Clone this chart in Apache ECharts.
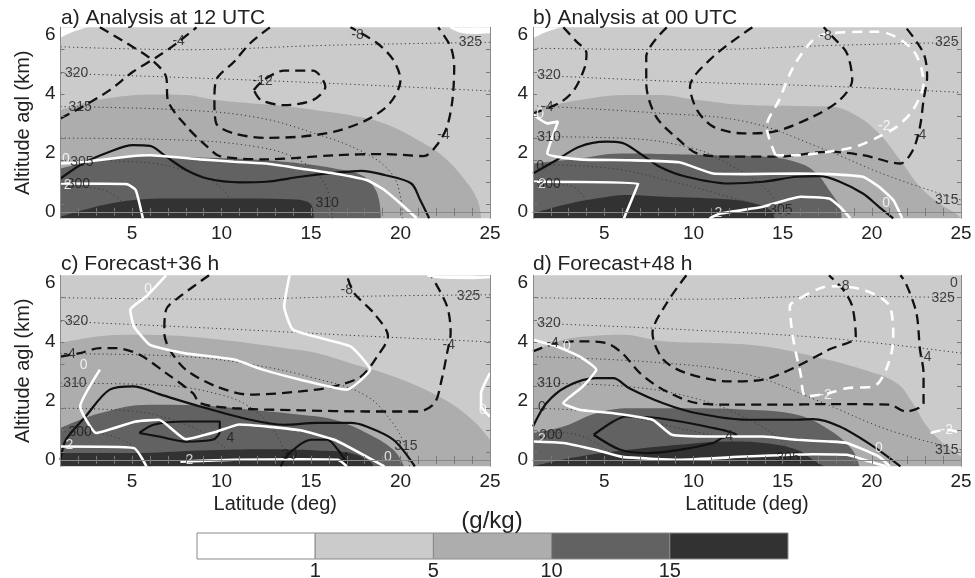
<!DOCTYPE html>
<html><head><meta charset="utf-8">
<script src="https://cdn.jsdelivr.net/npm/echarts@6/dist/echarts.min.js"></script>
<style>html,body{margin:0;padding:0;background:#fff}#c{width:975px;height:578px}</style>
</head><body><div id="c"></div>
<script>
// ---------- axis ticks / labels ----------
const LAT_TICKS = [5, 10, 15, 20, 25];
const KM_TICKS = [0, 2, 4, 6];
const LAT_MINOR = [2,3,4,5,6,7,8,9,10,11,12,13,14,15,16,17,18,19,20,21,22,23,24];
const KM_MINOR = [0.25, 1, 1.75, 2.5, 3.25, 4, 4.75, 5.5];
const PANEL_TITLES = ['a) Analysis at 12 UTC', 'b) Analysis at 00 UTC', 'c) Forecast+36 h', 'd) Forecast+48 h'];
const CB_LEVELS = ['1', '5', '10', '15'];
const CB_COLORS = ['#ffffff', '#cbcbcb', '#adadad', '#626262', '#323232'];

// ---------- panel a ----------
const A_fill5 = [[1,3.45],[3.2,3.81],[6.4,3.98],[8,3.96],[9.7,3.79],[11.6,3.68],[13.5,3.59],[15.3,3.45],[17.2,3.28],[19.1,3.0],[21,2.43],[22.4,1.87],[23.6,1.08],[24.3,0.4],[24.5,-0.22]];
const A_fill10 = [[1,1.47],[2.25,1.64],[4.1,1.81],[6,1.89],[8.8,1.84],[11.6,1.78],[14.4,1.64],[16.3,1.47],[17.8,1.25],[18.5,0.85],[18.8,0.4],[18.9,-0.22]];
const A_fill15 = [[1,-0.17],[2.25,0.06],[3.6,0.26],[5.1,0.4],[6.9,0.45],[10.7,0.45],[13.8,0.43],[14.8,0.34],[15.1,0.11],[15.15,-0.22]];
const A_white1 = [[1,5.9],[1.6,6.08],[2.5,6.26]];
const A_white2 = [[22.8,6.26],[23.3,6.13],[24.2,6.08],[25,6.1]];
const A_solid = [[1,1.13],[2.25,1.64],[3.75,2.04],[5.05,2.26],[6,2.24],[6.9,1.87],[8.05,1.41],[9.2,1.13],[11,1.0],[12.5,1.02],[14.4,1.19],[16.3,1.32],[17.8,1.39],[19.1,1.25],[20.6,0.96],[21.1,0.4],[21.6,-0.22]];
const A_w0 = [[1,1.64],[2.4,1.7],[4.7,1.87],[6,1.92],[8.8,1.78],[10.7,1.7],[12.5,1.64],[14.4,1.47],[16.3,1.3],[18.1,1.08],[19.1,0.74],[20,0.28],[20.9,-0.22]];
const A_w2 = [[1,0.96],[4.7,0.94],[5.2,0.74],[5.6,-0.22]];
const A_n4a = [[1,3.17],[2.25,3.57],[3.75,4.13],[5.05,4.75],[6.4,5.26],[7.5,5.72],[8.6,6.26]];
const A_n4b = [[3.2,6.26],[4.7,5.72],[6,5.21],[6.9,4.58],[7,3.79],[8.05,2.89],[9.2,2.21],[9.9,1.89],[12.5,1.78],[16.3,1.92],[19.1,1.96],[21.3,1.89],[22.1,2.32],[22.6,2.89],[22.9,3.79],[23,4.92],[22.8,5.6],[22.1,6.26]];
const A_n8 = [[12.7,6.26],[11.6,5.72],[10.7,5.09],[9.7,4.47],[9.6,3.79],[9.7,3.0],[10.7,2.66],[12.5,2.51],[14.4,2.55],[16.3,2.72],[18.1,3.11],[19.4,3.68],[20,4.47],[19.6,5.15],[18.7,5.72],[17.2,6.26]];
const A_n12 = [[11.8,4.13],[12.35,4.47],[13.5,4.79],[15.1,4.79],[15.8,4.24],[15.1,3.79],[13.5,3.62],[12.2,3.79],[11.8,4.13]];
const A_t325 = [[1,5.6],[8,5.5],[16,5.65],[25,5.75]];
const A_t320 = [[1,4.7],[9,4.53],[16,4.36],[25,4.1]];
const A_t315 = [[1,3.57],[8,3.45],[12,3.2],[15,2.7],[18,2.0],[19.5,1.3],[20,0.5],[20.1,-0.22]];
const A_t310 = [[1,2.5],[7,2.45],[12,2.2],[14.5,1.7],[15.8,0.9],[16.2,-0.22]];
const A_t305 = [[1,1.75],[5,1.7],[8,1.4],[10,0.8],[11,-0.22]];
const A_t300 = [[1,0.85],[3,0.8],[4.5,0.3],[5,-0.22]];
const A_lblK = [[7.6,5.8,'-4'],[17.6,6.0,'-8'],[12.3,4.45,'-12'],[22.4,2.6,'-4'],[23.9,5.75,'325'],[1.9,4.7,'320'],[2.1,3.55,'315'],[2.2,1.7,'305'],[2.0,0.95,'300'],[15.9,0.3,'310']];
const A_lblW = [[1.3,1.8,'0'],[1.4,0.9,'2'],[24.3,6.15,'0']];

// ---------- panel b ----------
const B_fill5 = [[1,3.45],[3.6,3.79],[6.4,3.96],[8.1,3.96],[10.2,3.79],[13,3.62],[15.8,3.59],[17.6,3.57],[19.1,3.28],[20.4,2.66],[21.6,1.75],[22.7,0.85],[23.8,0.28],[24.7,-0.06],[25,-0.22]];
const B_fill10 = [[1,1.64],[3.6,1.81],[5.9,1.98],[8.3,1.96],[11.1,1.92],[14.1,1.87],[16,1.64],[16.9,1.3],[17.6,0.74],[18.2,0.17],[18.3,-0.22]];
const B_fill15 = [[1,-0.06],[2.7,0.23],[4.55,0.45],[6.4,0.57],[8.3,0.51],[11.1,0.45],[13,0.34],[14.3,0.06],[14.55,-0.22]];
const B_white1 = [[1,5.89],[1.75,6.1],[2.6,6.26]];
const B_solid = [[1,1.3],[2.3,1.75],[3.6,2.21],[5.1,2.38],[6,2.34],[7,1.98],[8.1,1.53],[9.6,1.19],[12,0.96],[13.9,1.02],[15.8,1.19],[17.1,1.21],[18.2,1.02],[19.5,0.62],[20.4,0.17],[21.2,-0.22]];
const B_w0 = [[1,3.3],[1.8,3.0],[2.4,3.06],[1.8,1.98],[3.6,1.78],[6.4,1.75],[9.2,1.68],[11.1,1.3],[13,1.28],[15.8,1.3],[17.6,1.28],[19.5,1.19],[20.4,0.85],[21.2,0.4],[21.7,-0.22]];
const B_w2a = [[1,1.02],[6.9,0.96],[6.1,-0.22]];
const B_w2b = [[10.9,-0.22],[11.5,-0.06],[13.9,0.17],[16,0.51],[17.6,0.45],[18.2,0.17],[18.8,-0.22]];
const B_wn2 = [[14.6,1.92],[14.1,2.89],[14.8,3.79],[15.6,4.92],[16.7,5.83],[17.6,6.05],[20.4,6.11],[22.3,5.49],[22.9,4.36],[22.3,3.45],[21.4,2.89],[20.4,2.55],[19.1,2.21],[17.6,2.04],[15.8,1.92],[14.6,1.92]];
const B_n4a = [[2.7,6.26],[3.4,5.8],[4,5.38],[3.9,4.9],[3.3,4.13],[2.5,3.7],[1,3.34]];
const B_n4b = [[8.5,6.26],[7.35,5.26],[7.35,4.36],[7.9,3.23],[9.2,2.43],[10.2,1.98],[12,1.87],[14.8,1.87],[17.6,2.04],[19.5,1.92],[21.6,1.64],[22.3,2.09],[22.7,2.89],[22.9,3.79],[23.1,4.58],[22.9,5.38],[21.9,6.26]];
const B_n8 = [[13.3,6.26],[11.1,5.26],[9.8,4.24],[10.2,3.45],[11.1,2.89],[12.8,2.66],[14.5,2.72],[16.7,3.23],[18.2,3.79],[18.9,4.47],[18.6,5.38],[17.8,5.94],[17.3,6.26]];
const B_t325 = [[1,5.55],[10,5.5],[18,5.65],[25,5.75]];
const B_t320 = [[1,4.64],[10,4.4],[18,4.25],[25,4.05]];
const B_t315 = [[1,3.6],[8,3.35],[13,3.05],[17,2.2],[21,1.2],[25,0.4]];
const B_t310 = [[1,2.55],[6,2.5],[10,2.15],[12,1.6],[14,0.8],[15.3,-0.22]];
const B_t305 = [[1,1.6],[5,1.5],[9,1.0],[12,0.5],[14.5,0.05],[15,-0.22]];
const B_t300 = [[1,0.95],[3,0.9],[4,0.4],[4.5,-0.22]];
const B_lblK = [[17.4,5.95,'-8'],[1.8,3.55,'-4'],[1.9,4.64,'320'],[1.9,2.55,'310'],[24.2,5.77,'325'],[24.2,0.4,'315'],[22.7,2.6,'-4'],[14.9,0.05,'305'],[1.4,1.55,'0'],[1.9,0.95,'300']];
const B_lblW = [[20.7,2.9,'-2'],[20.8,0.3,'0'],[11.4,-0.05,'2'],[1.4,3.3,'0'],[1.5,0.95,'2']];

// ---------- panel c ----------
const C_fill5 = [[1,3.96],[3.2,4.19],[5.4,4.24],[7.9,4.19],[10.7,4.02],[13.5,3.79],[15.3,3.62],[17.2,3.28],[19.1,2.94],[21,2.49],[22.8,1.92],[24.2,1.25],[25,0.68]];
const C_fill10 = [[1,1.08],[3.2,1.58],[6,1.87],[8.8,1.84],[11.6,1.7],[14.4,1.53],[16.3,1.36],[18.1,0.91],[19.6,0.34],[20.2,-0.22]];
const C_fill15 = [[1,0.23],[5.1,0.23],[8.8,0.32],[12.5,0.36],[15.3,0.32],[17.2,0.23],[18.3,-0.06],[18.5,-0.22]];
const C_white1 = [[21.5,6.26],[22,6.2],[24,6.17],[25,6.2]];
const C_solid = [[1,0],[1.3,0.68],[2.4,1.47],[3.75,2.38],[5.05,2.49],[6.6,2.21],[8.8,1.81],[11.6,1.36],[13.5,1.19],[15.3,1.25],[17.2,1.25],[18.1,1.13],[19.6,0.68],[20.8,-0.22]];
const C_s4a = [[5.4,0.91],[6.2,1.19],[8,1.3],[9.9,1.3],[9.9,0.96],[9.5,0.68],[8,0.62],[6.5,0.79],[5.4,0.91]];
const C_s4b = [[13.3,-0.22],[13.8,0.23],[15,0.68],[15.9,0.68],[16.5,0.34],[17,-0.11]];
const C_w0a = [[6.9,6.26],[5.8,5.55],[4.9,5.09],[5.1,4.53],[6,3.9],[7.9,3.62],[10.7,3.4],[12.3,3.06],[14.4,2.72],[17,2.38],[18.3,3.06],[17.2,3.85],[14,4.41],[13.5,5.21],[13.8,6.26]];
const C_w0b = [[3.2,3.06],[2.1,1.81],[3,0.91],[5.2,1.3],[6.5,1.36],[8,0.7],[9.7,0.95],[11,1.2],[14.4,1.0],[16.3,0.68],[18.1,0.11],[19.1,-0.22]];
const C_w0c = [[25,2.94],[24.5,2.26],[24.5,1.81],[25,1.47]];
const C_w2a = [[1,0.45],[5.1,0.4],[5.8,-0.22]];
const C_w2b = [[7.7,-0.06],[10.7,0],[14.4,0.02],[16.5,0],[17,-0.22]];
const C_n4 = [[1,3.5],[2.1,3.62],[3.2,3.79],[4.1,3.79],[5.4,3.57],[6.9,2.94],[8.4,2.26],[8.8,1.92],[10.7,1.75],[14.4,1.68],[18.1,1.64],[21,1.64],[21.9,1.92],[22.3,2.72],[22.6,3.62],[22.8,4.3],[22.6,5.21],[21.7,6.26]];
const C_n8 = [[9.3,6.26],[7.7,5.55],[6.9,5.09],[6.8,4.3],[7.1,3.74],[8,3.06],[9.7,2.49],[11.6,2.21],[14.4,2.32],[16.3,2.49],[17.8,2.83],[18.7,3.51],[19.3,4.19],[18.5,4.98],[17.4,5.66],[17,6.26]];
const C_t325 = [[1,5.5],[10,5.45],[18,5.55],[25,5.6]];
const C_t320 = [[1,4.7],[10,4.45],[18,4.2],[25,4.0]];
const C_t315 = [[1,3.6],[8,3.5],[12,3.2],[15,2.8],[18,2.2],[19.5,1.3],[20.3,0.4],[20.5,-0.22]];
const C_t310 = [[1,2.6],[6,2.55],[10,2.2],[12,1.6],[13.3,0.6],[13.6,-0.22]];
const C_t305 = [[1,1.75],[5,1.65],[8,1.2],[10,0.5],[11,-0.22]];
const C_t300 = [[1,0.95],[3,0.9],[5,0.5],[6,-0.22]];
const C_lblK = [[17,5.75,'-8'],[23.8,5.55,'325'],[1.9,4.7,'320'],[1.5,3.6,'-4'],[1.8,2.6,'310'],[2.1,0.95,'300'],[22.7,3.9,'-4'],[10.5,0.75,'4'],[16.9,0.05,'4'],[20.3,0.45,'315'],[13.8,0.15,'30']];
const C_lblW = [[5.9,5.8,'0'],[2.3,3.2,'0'],[1.5,0.5,'2'],[8.2,0,'2'],[19.3,0.1,'0'],[24.6,1.7,'0']];

// ---------- panel d ----------
const D_fill5 = [[1,3.68],[2.7,4.07],[4.2,4.19],[6,4.24],[8.3,4.02],[11.1,3.96],[13.9,3.85],[16.7,3.51],[19.5,3.06],[21.4,2.6],[22.3,1.92],[23.1,1.13],[24.2,0.45],[25,0.11]];
const D_fill10 = [[1,0.91],[2.7,1.13],[4.55,1.58],[6.4,1.75],[9.2,1.75],[13,1.7],[15.8,1.53],[17.6,1.02],[18.9,0.34],[19.3,-0.22]];
const D_fill15 = [[1,-0.22],[3.6,0.11],[6.4,0.34],[9.2,0.51],[12,0.62],[13.9,0.57],[15.8,0.34],[16.7,0],[17.3,-0.22]];
const D_solid = [[1,1.13],[1.75,1.92],[2.9,2.49],[4.55,2.77],[5.5,2.77],[6.4,2.43],[8.3,1.92],[10.2,1.58],[13,1.36],[15.8,1.36],[16.7,1.38],[18.2,1.13],[20.1,0.45],[21.6,-0.22]];
const D_s4 = [[4.4,0.85],[5.5,1.3],[6.2,1.47],[8.1,1.41],[11.1,1.08],[12.4,0.85],[11.6,0.74],[11.1,0.57],[9.2,0.34],[7.4,0.23],[5.9,0.34],[4.4,0.85]];
const D_w0 = [[1,4.07],[2.3,3.85],[3.6,3.51],[4.55,3.06],[3.8,2.49],[2.7,1.92],[3.6,1.7],[5.5,1.58],[7.7,1.36],[8.8,0.85],[11.1,0.79],[13.9,0.79],[15.8,0.68],[17.6,0.62],[18.6,0.57],[20.4,0.11],[21,-0.22]];
const D_w2 = [[1,0.62],[2.7,0.57],[4.5,0.34],[6,0.1],[9.2,0.0],[12.9,0.11],[16.7,0.19],[18.6,0.17],[19.9,-0.06],[20.8,-0.22]];
const D_wn2 = [[16,5.49],[17.6,5.89],[19.5,5.77],[21,5.21],[21.2,4.07],[20.8,3.06],[20.1,2.49],[18.6,2.43],[17.6,2.26],[16.3,2.15],[16,2.94],[15.6,4.07],[15.4,5.21],[16,5.49]];
const D_wn2b = [[23.3,0.91],[24.2,1.02],[25,0.91]];
const D_n4 = [[1,3.68],[2.3,3.96],[3.6,4.02],[5.1,3.96],[6,3.62],[7,2.94],[8.3,2.38],[10.2,1.92],[12,1.87],[14.8,1.87],[17.6,1.89],[21,1.87],[21.9,1.64],[22.9,1.92],[22.9,2.94],[22.7,3.74],[22.5,4.98],[21.9,6.0],[21.6,6.26]];
const D_n8 = [[9.6,6.26],[8.5,5.32],[7.7,4.3],[8.3,3.4],[9.6,2.94],[12,2.66],[13.9,2.72],[15.8,3.17],[17.6,3.74],[19.1,4.19],[18.9,5.21],[18.4,5.77],[17.6,6.26]];
const D_t325 = [[1,5.5],[10,5.45],[18,5.55],[25,5.5]];
const D_t320 = [[1,4.64],[10,4.4],[18,4.1],[25,3.62]];
const D_t315 = [[1,3.5],[8,3.3],[13,2.9],[17,2.0],[21,1.0],[25,0.34]];
const D_t310 = [[1,2.6],[6,2.5],[10,2.1],[13,1.4],[15,0.6],[16,-0.22]];
const D_t305 = [[1,1.75],[5,1.6],[9,1.1],[13,0.5],[15.2,-0.22]];
const D_t300 = [[1,0.95],[3,0.9],[5,0.4],[6,-0.22]];
const D_lblK = [[2.1,3.95,'-4'],[1.9,4.64,'320'],[1.9,2.6,'310'],[2,0.85,'300'],[1.5,1.8,'0'],[18.4,5.9,'-8'],[24,5.5,'325'],[24.2,0.34,'315'],[23,3.5,'-4'],[12,0.8,'4'],[15.3,0.05,'305'],[24.6,6.0,'0']];
const D_lblW = [[1.5,0.7,'2'],[17.4,2.2,'-2'],[20.4,0.4,'0'],[24.2,1.0,'-2'],[2.9,3.85,'0']];

// ---------- build ----------
const FONT = '"Liberation Sans", Arial, sans-serif';
const Y_MIN = -0.22, Y_MAX = 6.26;

const panels = [
  {fill:[A_fill5,A_fill10,A_fill15], white:[A_white1,A_white2], theta:[A_t325,A_t320,A_t315,A_t310,A_t305,A_t300],
   dashK:[A_n4a,A_n4b,A_n8,A_n12], solidK:[A_solid], solidW:[A_w0,A_w2,A_white2], dashW:[], lblK:A_lblK, lblW:A_lblW},
  {fill:[B_fill5,B_fill10,B_fill15], white:[B_white1], theta:[B_t325,B_t320,B_t315,B_t310,B_t305,B_t300],
   dashK:[B_n4a,B_n4b,B_n8], solidK:[B_solid], solidW:[B_w0,B_w2a,B_w2b], dashW:[B_wn2], lblK:B_lblK, lblW:B_lblW},
  {fill:[C_fill5,C_fill10,C_fill15], white:[C_white1], theta:[C_t325,C_t320,C_t315,C_t310,C_t305,C_t300],
   dashK:[C_n4,C_n8], solidK:[C_solid,C_s4a,C_s4b], solidW:[C_w0a,C_w0b,C_w0c,C_w2a,C_w2b,C_white1], dashW:[], lblK:C_lblK, lblW:C_lblW},
  {fill:[D_fill5,D_fill10,D_fill15], white:[], theta:[D_t325,D_t320,D_t315,D_t310,D_t305,D_t300],
   dashK:[D_n4,D_n8], solidK:[D_solid,D_s4], solidW:[D_w0,D_w2], dashW:[D_wn2,D_wn2b], lblK:D_lblK, lblW:D_lblW}
];

const gridPos = [
  {left:60.5, top:27.3, width:429.5, height:191},
  {left:533, top:27.3, width:428, height:191},
  {left:60.5, top:275.3, width:429.5, height:191},
  {left:533, top:275.3, width:428, height:191}
];

const grids = gridPos.map(p => Object.assign({show:true, backgroundColor:CB_COLORS[1], borderWidth:0}, p));
const xAxes = [], yAxes = [];
const tickStyle = {inside:true, length:4, lineStyle:{color:'#777', width:1}};
const lineStyleAx = {show:true, lineStyle:{color:'#8a8a8a', width:1}};
for (let g = 0; g < 4; g++) {
  xAxes.push({type:'value', gridIndex:g, min:1, max:25, position:'bottom', z:10,
    axisLine:lineStyleAx, splitLine:{show:false},
    axisTick:Object.assign({customValues:LAT_MINOR}, tickStyle),
    axisLabel:{customValues:LAT_TICKS, fontSize:19, color:'#222', margin:6, fontFamily:FONT},
    name: g >= 2 ? 'Latitude (deg)' : '', nameLocation:'middle', nameGap:28,
    nameTextStyle:{fontSize:20, color:'#222', fontFamily:FONT}});
  yAxes.push({type:'value', gridIndex:g, min:Y_MIN, max:Y_MAX, position:'left', z:10,
    axisLine:lineStyleAx, splitLine:{show:false},
    axisTick:Object.assign({customValues:KM_MINOR}, tickStyle),
    axisLabel:{customValues:KM_TICKS, fontSize:19, color:'#222', margin:5, fontFamily:FONT},
    name: g % 2 === 0 ? 'Altitude agl (km)' : '', nameLocation:'middle', nameGap:27,
    nameTextStyle:{fontSize:20, color:'#222', fontFamily:FONT}});
}
for (let g = 0; g < 4; g++) {
  xAxes.push({type:'value', gridIndex:g, min:1, max:25, position:'top', z:10,
    axisLine:lineStyleAx, splitLine:{show:false}, axisLabel:{show:false},
    axisTick:Object.assign({customValues:LAT_MINOR}, tickStyle)});
  yAxes.push({type:'value', gridIndex:g, min:Y_MIN, max:Y_MAX, position:'right', z:10,
    axisLine:lineStyleAx, splitLine:{show:false}, axisLabel:{show:false},
    axisTick:Object.assign({customValues:KM_MINOR}, tickStyle)});
}

const series = [];
function base(g, data) {
  return {type:'line', xAxisIndex:g, yAxisIndex:g, data:data, symbol:'none', showSymbol:false,
          silent:true, animation:false, clip:true};
}
panels.forEach((p, g) => {
  p.fill.forEach((d, i) => {
    series.push(Object.assign(base(g, d), {smooth:0.4, lineStyle:{width:0},
      areaStyle:{color:CB_COLORS[i + 2], opacity:1, origin:'start'}}));
  });
  p.white.forEach(d => {
    series.push(Object.assign(base(g, d), {smooth:0.4, lineStyle:{width:0},
      areaStyle:{color:'#ffffff', opacity:1, origin:'end'}}));
  });
  p.theta.forEach(d => {
    series.push(Object.assign(base(g, d), {smooth:0.4,
      lineStyle:{color:'#3a3a3a', width:1, type:[1.2, 3]}}));
  });
  p.dashK.forEach(d => {
    series.push(Object.assign(base(g, d), {smooth:0.3,
      lineStyle:{color:'#111', width:2.3, type:[10, 6]}}));
  });
  p.solidK.forEach(d => {
    series.push(Object.assign(base(g, d), {smooth:0.3,
      lineStyle:{color:'#111', width:2.2}}));
  });
  p.solidW.forEach(d => {
    series.push(Object.assign(base(g, d), {smooth:0.15,
      lineStyle:{color:'#ffffff', width:2.6}}));
  });
  p.dashW.forEach(d => {
    series.push(Object.assign(base(g, d), {smooth:0.3,
      lineStyle:{color:'#ffffff', width:2.6, type:[10, 7]}}));
  });
  [[p.lblK, '#1a1a1a'], [p.lblW, '#ffffff']].forEach(([arr, col]) => {
    series.push({type:'scatter', xAxisIndex:g, yAxisIndex:g, silent:true, animation:false,
      symbol:'circle', symbolSize:1, itemStyle:{color:'rgba(0,0,0,0)'}, z:5,
      data: arr.map(d => ({value:[d[0], d[1]], name:d[2]})),
      label:{show:true, position:'inside', formatter:'{b}', color:col, fontSize:14, fontFamily:FONT}});
  });
});

// ---------- titles & colorbar ----------
const graphic = [];
const titlePos = [[61, 18], [533, 18], [61, 264.5], [533, 264.5]];
PANEL_TITLES.forEach((t, i) => {
  graphic.push({type:'text', x:titlePos[i][0], y:titlePos[i][1], z:20,
    style:{text:t, fontSize:21, fontFamily:FONT, fill:'#222', align:'left', verticalAlign:'middle'}});
});
const cbX = 197, cbW = 591, cbY = 533, cbH = 26;
CB_COLORS.forEach((c, i) => {
  graphic.push({type:'rect', shape:{x:cbX + i * cbW / 5, y:cbY, width:cbW / 5, height:cbH},
    style:{fill:c, stroke:'#8a8a8a', lineWidth:1}});
});
CB_LEVELS.forEach((t, i) => {
  graphic.push({type:'text', x:cbX + (i + 1) * cbW / 5, y:571,
    style:{text:t, fontSize:20, fontFamily:FONT, fill:'#222', align:'center', verticalAlign:'middle'}});
});
graphic.push({type:'text', x:492, y:521,
  style:{text:'(g/kg)', fontSize:24, fontFamily:FONT, fill:'#222', align:'center', verticalAlign:'middle'}});

const chart = echarts.init(document.getElementById('c'), null, {renderer:'canvas'});
chart.setOption({animation:false, backgroundColor:'#ffffff', grid:grids, xAxis:xAxes, yAxis:yAxes, series:series, graphic:graphic});
</script></body></html>
